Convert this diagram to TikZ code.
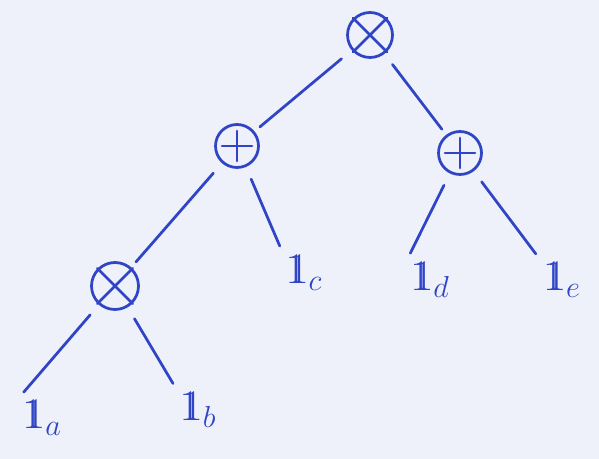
\documentclass[tikz,border=0pt]{standalone}
\usepackage{amsmath}
\usetikzlibrary{positioning, calc}
\definecolor{pen}{RGB}{48,68,198}
\definecolor{paper}{RGB}{238,241,250}
\newcommand{\bbone}{\mathrm{1\kern-0.36em 1}}

\begin{document}
\begin{tikzpicture}[x=0.02cm, y=-0.02cm,
    line width=0.055cm, draw=pen, line cap=round,
    op/.style={circle, draw=pen, minimum size=0.86cm, inner sep=0pt},
    leaf/.style={text=pen, font=\fontsize{27}{27}\selectfont, inner sep=1pt},
    edge/.style={pen, shorten <=7.5pt, shorten >=4pt},
    pluslines/.style={shorten <=4.5pt, shorten >=4.5pt}]
      \fill[paper] (0, 0) rectangle (599, 459);
      \useasboundingbox (0, 0) rectangle (599, 459);

      % operators
      \node[op, minimum size=0.9cm] (root) at (370, 35) {};
      \node[op] (plusL) at (237, 146) {};
      \node[op] (plusR) at (460, 153) {};
      \node[op, minimum size=0.94cm] (times) at (115, 286) {};

      \draw (root.north west) -- (root.south east);
      \draw (root.north east) -- (root.south west);
      \draw (times.north west) -- (times.south east);
      \draw (times.north east) -- (times.south west);
      \draw[pluslines] (plusL.north) -- (plusL.south);
      \draw[pluslines] (plusL.west) -- (plusL.east);
      \draw[pluslines] (plusR.north) -- (plusR.south);
      \draw[pluslines] (plusR.west) -- (plusR.east);

      % leaves
      \node[leaf] (la) at (42, 418) {$\bbone_a$};
      \node[leaf] (lb) at (198, 410) {$\bbone_b$};
      \node[leaf] (lc) at (304, 273) {$\bbone_c$};
      \node[leaf] (ld) at (430, 280) {$\bbone_d$};
      \node[leaf] (le) at (562, 280) {$\bbone_e$};

      % edges
      \draw[edge] (root) -- (plusL);
      \draw[edge] (root) -- (plusR);
      \draw[edge] (plusL) -- (times);
      \draw[edge] (plusL) -- (lc.north west);
      \draw[edge] (plusR) -- (ld.north west);
      \draw[edge] (plusR) -- (le.north west);
      \draw[edge] (times) -- (la.north west);
      \draw[edge] (times) -- (lb.north west);

    \end{tikzpicture}
\end{document}
